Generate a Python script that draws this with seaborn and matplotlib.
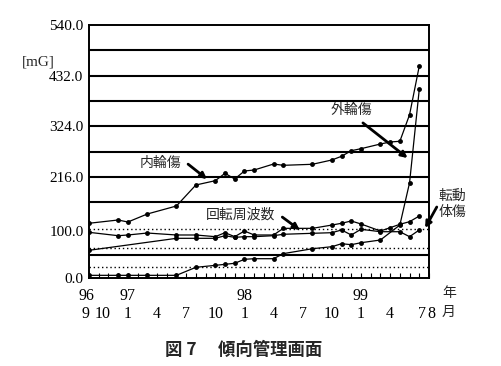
import matplotlib
matplotlib.use("Agg")
import matplotlib.pyplot as plt
import matplotlib.transforms as mtransforms
import pandas as pd
import seaborn as sns

# ---------------- data ----------------
inner_dates = ["1996-09", "1996-12", "1997-01", "1997-03", "1997-06", "1997-08", "1997-10",
               "1997-11", "1997-12", "1998-01", "1998-02", "1998-04", "1998-05", "1998-08",
               "1998-10", "1998-11", "1998-12", "1999-01", "1999-03", "1999-04", "1999-05",
               "1999-06", "1999-07"]
inner_vals = [116.8, 123.8, 119.5, 136.6, 153.7, 198.5, 207.7, 223.5, 211.3, 228.4, 230.5,
              243.3, 240.5, 242.7, 251.9, 259.8, 271.7, 276.0, 286.0, 290.3, 291.8, 348.6, 452.5]

outer_dates = ["1996-09", "1996-12", "1997-01", "1997-03", "1997-06", "1997-08", "1997-10",
               "1997-11", "1997-12", "1998-01", "1998-02", "1998-04", "1998-05", "1998-08",
               "1998-10", "1998-11", "1998-12", "1999-01", "1999-03", "1999-05", "1999-06",
               "1999-07"]
outer_vals = [5.7, 5.7, 5.7, 5.7, 5.7, 22.8, 27.0, 29.2, 31.4, 39.9, 41.2, 41.2, 52.0, 62.5,
              66.8, 73.2, 71.1, 75.3, 81.1, 113.0, 203.4, 402.8]

rot_dates = ["1996-09", "1996-12", "1997-01", "1997-03", "1997-06", "1997-08", "1997-10",
             "1997-11", "1997-12", "1998-01", "1998-02", "1998-04", "1998-05", "1998-08",
             "1998-10", "1998-11", "1998-12", "1999-01", "1999-03", "1999-04", "1999-05",
             "1999-06", "1999-07"]
rot_vals = [97.5, 90.3, 91.8, 96.0, 91.8, 91.8, 88.2, 96.7, 88.2, 100.3, 91.8, 91.8, 106.0,
            106.0, 113.0, 116.8, 121.7, 115.3, 100.3, 107.4, 114.6, 120.2, 132.3]

roll_dates = ["1996-09", "1997-06", "1997-08", "1997-10", "1997-11", "1997-12", "1998-01",
              "1998-02", "1998-04", "1998-05", "1998-08", "1998-10", "1998-11", "1998-12",
              "1999-01", "1999-03", "1999-05", "1999-06", "1999-07"]
roll_vals = [59.1, 84.7, 84.7, 84.7, 90.3, 86.7, 88.2, 88.2, 90.3, 93.3, 95.4, 96.7, 102.5,
             91.8, 104.0, 98.8, 98.8, 88.2, 102.5]

series_names = ["内輪傷", "外輪傷", "回転周波数", "転動体傷"]

start_date = "1996-09"
end_date = "1999-08"

month_label_dates = ["1996-09", "1996-10", "1997-01", "1997-04", "1997-07", "1997-10",
                     "1998-01", "1998-04", "1998-07", "1998-10", "1999-01", "1999-04",
                     "1999-07", "1999-08"]
month_labels = ["9", "10", "1", "4", "7", "10", "1", "4", "7", "10", "1", "4", "7", "8"]
year_label_dates = ["1996-09", "1997-01", "1998-01", "1999-01"]
year_labels = ["96", "97", "98", "99"]

y_tick_vals = [0, 100, 216, 324, 432, 540]
y_tick_labels = ["0.0", "100.0", "216.0", "324.0", "432.0", "540.0"]
solid_grid = [49, 162, 216, 270, 324, 378, 432, 486]
dotted_grid = [23.5, 64, 104]

title = "図 7　 傾向管理画面"


def month_index(s):
    y, m = s.split("-")
    y0, m0 = start_date.split("-")
    return (int(y) - int(y0)) * 12 + int(m) - int(m0)


frames = []
for name, d, v in zip(series_names,
                      [inner_dates, outer_dates, rot_dates, roll_dates],
                      [inner_vals, outer_vals, rot_vals, roll_vals]):
    frames.append(pd.DataFrame({"m": [month_index(x) for x in d], "v": v, "series": name}))
df = pd.concat(frames, ignore_index=True)

# ---------------- style ----------------
sns.set_theme(style="white")
plt.rcParams["font.family"] = ["Liberation Serif", "Noto Sans CJK JP"]
plt.rcParams["axes.unicode_minus"] = False

fig = plt.figure(figsize=(5.02, 3.66), dpi=100)
ax = fig.add_axes([89 / 502, 1 - 278 / 366, 340 / 502, 253 / 366])

for g in solid_grid:
    ax.axhline(g, color="black", lw=1.5, zorder=1)
for g in dotted_grid:
    ax.axhline(g, color="black", lw=1.0, ls=(0, (1, 2)), zorder=1)

sns.lineplot(data=df, x="m", y="v", hue="series", palette={n: "black" for n in series_names},
             marker="o", markersize=3.5, markeredgewidth=0, linewidth=0.9,
             estimator=None, legend=False, ax=ax, zorder=3)

n_months = month_index(end_date)
ax.set_xlim(0, n_months)
ax.set_ylim(0, 540)
ax.set_xlabel("")
ax.set_ylabel("")

labels = [" \n" for _ in range(n_months + 1)]
for d, l in zip(month_label_dates, month_labels):
    labels[month_index(d)] = " \n" + l
for d, l in zip(year_label_dates, year_labels):
    labels[month_index(d)] = l + labels[month_index(d)][1:]
ax.set_xticks(range(n_months + 1))
ax.set_xticklabels(labels)
ax.tick_params(axis="x", direction="in", length=3.5, width=0.8, bottom=True, pad=7,
               labelsize=11.5, colors="black")
xt = ax.get_xticklabels()
for t in xt:
    t.set_linespacing(1.2)
# nudge the crowded first labels and the final "7 8" pair as in the reference
nudges = {0: -3, 1: 4, n_months - 1: 3, n_months: 2}
for i, dx in nudges.items():
    xt[i].set_transform(xt[i].get_transform() +
                        mtransforms.ScaledTranslation(dx / 100, 0, fig.dpi_scale_trans))

ax.set_yticks(y_tick_vals)
ax.set_yticklabels(y_tick_labels)
ax.tick_params(axis="y", length=0, pad=4, labelsize=11, colors="black")

for s in ax.spines.values():
    s.set_visible(True)
    s.set_color("black")
    s.set_linewidth(1.4)

# ---------------- annotations ----------------
jp = "Noto Sans CJK JP"
arrow = dict(arrowstyle="-|>", color="black", lw=2.0, mutation_scale=9, shrinkA=0, shrinkB=0)

ax.text(7.4, 245, series_names[0], ha="center", va="center", fontsize=10, family=jp)
ax.annotate("", xy=(12.15, 211), xytext=(10.2, 243), arrowprops=arrow)

ax.text(27.0, 358, series_names[1], ha="center", va="center", fontsize=10, family=jp)
ax.annotate("", xy=(32.8, 256), xytext=(28.2, 331), arrowprops=arrow)

ax.text(15.6, 134.5, series_names[2], ha="center", va="center", fontsize=10, family=jp)
ax.annotate("", xy=(21.7, 102.5), xytext=(19.9, 130), arrowprops=arrow)

ax.text(37.4, 158, "転動\n体傷", ha="center", va="center", fontsize=10, family=jp,
        linespacing=1.15, clip_on=False)
ax.annotate("", xy=(34.6, 106.7), xytext=(35.8, 151.5), arrowprops=arrow,
            annotation_clip=False)

fig.text(38 / 502, 1 - 62 / 366, "[mG]", ha="center", va="center", fontsize=11)
fig.text(449 / 502, 1 - 293 / 366, "年", ha="center", va="center", fontsize=10, family=jp)
fig.text(449 / 502, 1 - 312 / 366, "月", ha="center", va="center", fontsize=10, family=jp)
fig.text(244 / 502, 1 - 350 / 366, title, ha="center", va="center", fontsize=12.5,
         family=jp, fontweight="bold")

fig.savefig("out.png", dpi=100, facecolor="white")
